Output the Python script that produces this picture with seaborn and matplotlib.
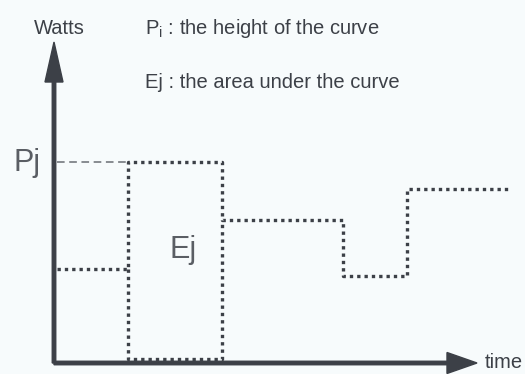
import numpy as np
import pandas as pd
import seaborn as sns
import matplotlib.pyplot as plt

# power profile of one job: a step curve (time, watts), arbitrary units
step_time = [3, 74, 168, 289, 353, 454]
step_watts = [94, 201, 143, 87, 174, 174]

# the block whose area is Ej
block_time = [74, 74, 168, 168]
block_watts = [94, 4, 4, 143]

# peak level Pj
peak_time = [3, 74]
peak_watts = [201, 201]

ink = '#3c4047'

sns.set_style('white')
plt.rcParams['font.family'] = ['Liberation Sans', 'DejaVu Sans']
plt.rcParams['mathtext.fontset'] = 'custom'
plt.rcParams['mathtext.rm'] = 'Liberation Sans'

fig = plt.figure(figsize=(5.25, 3.74), dpi=100, facecolor='#f7fbfc')
ax = fig.add_axes([0, 0, 1, 1])
ax.set_facecolor('#f7fbfc')

dot = dict(linewidth=2.4, linestyle=(0, (1, 1.2)), dash_capstyle='butt', color=ink)
sns.lineplot(x=step_time, y=step_watts, sort=False, estimator=None,
             drawstyle='steps-post', ax=ax, **dot)
sns.lineplot(x=block_time, y=block_watts, sort=False, estimator=None, ax=ax, **dot)
sns.lineplot(x=peak_time, y=peak_watts, sort=False, estimator=None, ax=ax,
             color='#6a6e74', linewidth=1.1, linestyle=(0, (5, 3)))

# axes with arrow heads
ax.arrow(0, 0, 0, 321, width=3.5, head_width=18, head_length=40,
         length_includes_head=True, color=ink, zorder=5)
ax.arrow(0, 0, 423, 0, width=3.5, head_width=21, head_length=30,
         length_includes_head=True, color=ink, zorder=5)

ax.text(5, 335, 'Watts', fontsize=14.5, color=ink, ha='center', va='center')
ax.text(431, 1, 'time', fontsize=14.5, color=ink, ha='left', va='center')
ax.text(91, 335, r'P$_{\mathrm{i}}$ : the height of the curve', fontsize=14.5,
        color=ink, ha='left', va='center')
ax.text(91, 281, 'Ej : the area under the curve', fontsize=14.5,
        color=ink, ha='left', va='center')
ax.text(-41, 200, 'Pj', fontsize=22, color='#5a5e64', ha='left', va='center')
ax.text(116, 113, 'Ej', fontsize=22, color='#5a5e64', ha='left', va='center')

ax.set_xlim(-54, 471)
ax.set_ylim(-11, 363)
ax.set_axis_off()

fig.savefig('out.png', dpi=100, facecolor=fig.get_facecolor())
